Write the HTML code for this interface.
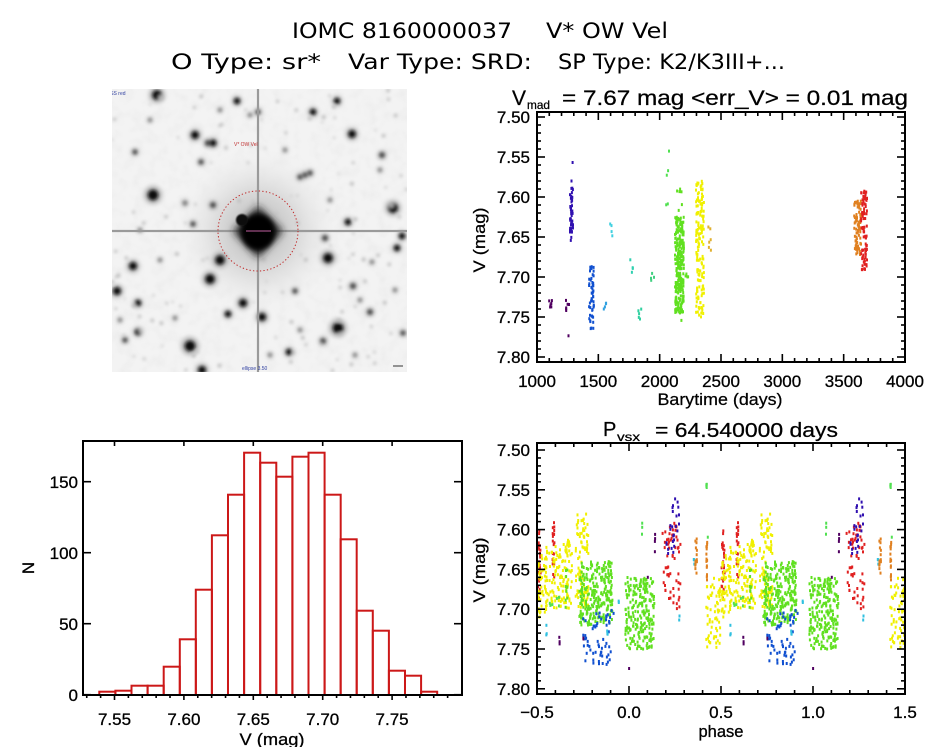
<!DOCTYPE html>
<html><head><meta charset="utf-8"><style>
html,body{margin:0;padding:0;background:#fff;}
svg{display:block;font-family:"Liberation Sans",sans-serif;}
</style></head><body>
<svg id="s" width="944" height="747" viewBox="0 0 944 747" xmlns="http://www.w3.org/2000/svg">
<defs>
<filter id="bl" x="-80%" y="-80%" width="260%" height="260%"><feGaussianBlur stdDeviation="1.6"/></filter>
<filter id="bl1" x="-80%" y="-80%" width="260%" height="260%"><feGaussianBlur stdDeviation="0.9"/></filter>
<filter id="bl2" x="-50%" y="-50%" width="200%" height="200%"><feGaussianBlur stdDeviation="2.5"/></filter>
<filter id="bl4" x="-50%" y="-50%" width="200%" height="200%"><feGaussianBlur stdDeviation="4"/></filter>
<filter id="noise" x="0" y="0" width="100%" height="100%">
<feTurbulence type="fractalNoise" baseFrequency="0.09" numOctaves="2" seed="7" result="t"/>
<feColorMatrix in="t" type="matrix" values="0 0 0 0 0.5  0 0 0 0 0.5  0 0 0 0 0.5  0 0 0 0.9 -0.38"/>
</filter>
<radialGradient id="halo" cx="0.5" cy="0.5" r="0.5">
<stop offset="0" stop-color="#b8b8b8"/><stop offset="0.45" stop-color="#d8d8d8"/><stop offset="1" stop-color="#f2f2f2" stop-opacity="0"/>
</radialGradient>
<clipPath id="imgc"><rect x="112" y="89" width="295" height="283"/></clipPath>
</defs>
<rect width="944" height="747" fill="#fff"/>

<!-- Titles -->
<g fill="#000" font-size="21" font-family="'DejaVu Sans','Liberation Sans',sans-serif">
<text x="292" y="38" textLength="220" lengthAdjust="spacingAndGlyphs">IOMC 8160000037</text>
<text x="546" y="38" textLength="122" lengthAdjust="spacingAndGlyphs">V* OW Vel</text>
<text x="171" y="69" textLength="150" lengthAdjust="spacingAndGlyphs">O Type: sr*</text>
<text x="348" y="69" textLength="184" lengthAdjust="spacingAndGlyphs">Var Type: SRD:</text>
<text x="558" y="69" textLength="227" lengthAdjust="spacingAndGlyphs">SP Type: K2/K3III+...</text>
</g>

<!-- Image panel -->
<g clip-path="url(#imgc)">
<rect x="112" y="89" width="295" height="283" fill="#f3f3f3"/>
<rect x="112" y="89" width="295" height="283" filter="url(#noise)" opacity="0.25"/>
<circle cx="258" cy="231" r="85" fill="url(#halo)"/>
<g id="starh" fill="#b0b0b0" filter="url(#bl2)"></g>
<g id="stars" fill="#222" filter="url(#bl)"></g>
<line x1="258" y1="89" x2="258" y2="372" stroke="#9a9a9a" stroke-width="2.2"/>
<line x1="112" y1="231" x2="407" y2="231" stroke="#9a9a9a" stroke-width="2.2"/>
<line x1="258" y1="150" x2="258" y2="320" stroke="#555" stroke-width="3" filter="url(#bl1)"/>
<line x1="175" y1="231" x2="345" y2="231" stroke="#555" stroke-width="3" filter="url(#bl1)"/>
<line x1="258" y1="195" x2="258" y2="275" stroke="#111" stroke-width="6" filter="url(#bl1)"/>
<line x1="210" y1="231" x2="310" y2="231" stroke="#111" stroke-width="6" filter="url(#bl1)"/>
<path d="M258,206 L283,231 L258,258 L233,231 Z" fill="#222" filter="url(#bl4)"/>
<ellipse cx="258" cy="232" rx="17" ry="18" fill="#000" filter="url(#bl2)"/>
<circle cx="242" cy="220" r="6" fill="#111" filter="url(#bl1)"/>
<circle cx="258" cy="231" r="40" fill="none" stroke="#c02828" stroke-width="1" stroke-dasharray="1.3,2.2"/>
<line x1="246" y1="231" x2="271" y2="231" stroke="#c060a0" stroke-width="1"/>
<text x="103" y="95" font-size="5" fill="#3040a0">POSS red</text>
<text x="234" y="146" font-size="5" fill="#c03030">V* OW Vel</text>
<text x="100" y="370" font-size="5" fill="#3040a0">~~</text>
<text x="242" y="370" font-size="5" fill="#3040a0">ellipse 3.50</text>
<line x1="393" y1="366" x2="403" y2="366" stroke="#333" stroke-width="1"/>
<line x1="411" y1="358" x2="411" y2="368" stroke="#333" stroke-width="1"/>
</g>

<!-- Top-right plot -->
<g id="trpts"></g>
<g id="trax" stroke="#000" stroke-width="1.6" fill="none"></g>
<rect x="537" y="112" width="368" height="250" fill="none" stroke="#000" stroke-width="2"/>
<g fill="#000" stroke="#000" stroke-width="0.3" font-size="17" text-anchor="end" id="trylab"></g>
<g fill="#000" stroke="#000" stroke-width="0.3" font-size="17" text-anchor="middle" id="trxlab"></g>
<g fill="#000" stroke="#000" stroke-width="0.25">
<text x="512" y="105" font-size="21">V</text>
<text x="527" y="109" font-size="12" textLength="23" lengthAdjust="spacingAndGlyphs">mad</text>
<text x="562" y="105" font-size="21" textLength="346" lengthAdjust="spacingAndGlyphs">= 7.67 mag &lt;err_V&gt; = 0.01 mag</text>
<text x="720" y="405" font-size="17" text-anchor="middle" textLength="125" lengthAdjust="spacingAndGlyphs">Barytime (days)</text>
<text transform="translate(485,240) rotate(-90)" font-size="17" text-anchor="middle" textLength="65" lengthAdjust="spacingAndGlyphs">V (mag)</text>
</g>

<!-- Histogram -->
<g id="bars" fill="none" stroke="#cc1818" stroke-width="2"></g>
<g id="hax" stroke="#000" stroke-width="1.6" fill="none"></g>
<rect x="83" y="441" width="379" height="254" fill="none" stroke="#000" stroke-width="2"/>
<g fill="#000" stroke="#000" stroke-width="0.3" font-size="17" text-anchor="end">
<text x="78" y="488">150</text>
<text x="78" y="559">100</text>
<text x="78" y="630">50</text>
<text x="78" y="701">0</text>
</g>
<g fill="#000" stroke="#000" stroke-width="0.3" font-size="17" text-anchor="middle">
<text x="114.5" y="725">7.55</text>
<text x="183.9" y="725">7.60</text>
<text x="253.3" y="725">7.65</text>
<text x="322.7" y="725">7.70</text>
<text x="392.1" y="725">7.75</text>
<text x="272" y="745" textLength="65" lengthAdjust="spacingAndGlyphs">V (mag)</text>
<text transform="translate(34,568) rotate(-90)">N</text>
</g>

<!-- Phase plot -->
<g id="phpts"></g>
<g id="phax" stroke="#000" stroke-width="1.6" fill="none"></g>
<rect x="537" y="443" width="368" height="251" fill="none" stroke="#000" stroke-width="2"/>
<g fill="#000" stroke="#000" stroke-width="0.3" font-size="17" text-anchor="end" id="phylab"></g>
<g fill="#000" stroke="#000" stroke-width="0.3" font-size="17" text-anchor="middle">
<text x="537" y="718">−0.5</text>
<text x="629" y="718">0.0</text>
<text x="721" y="718">0.5</text>
<text x="813" y="718">1.0</text>
<text x="905" y="718">1.5</text>
<text x="721" y="737" textLength="45" lengthAdjust="spacingAndGlyphs">phase</text>
<text transform="translate(485,570) rotate(-90)" textLength="65" lengthAdjust="spacingAndGlyphs">V (mag)</text>
</g>
<g fill="#000" stroke="#000" stroke-width="0.25">
<text x="603" y="436" font-size="20">P</text>
<text x="617" y="441" font-size="12" textLength="23" lengthAdjust="spacingAndGlyphs">vsx</text>
<text x="655" y="437" font-size="20" textLength="183" lengthAdjust="spacingAndGlyphs">= 64.540000 days</text>
</g>
</svg>
<script>
(function(){
var NS="http://www.w3.org/2000/svg";
function el(p,tag,a){var e=document.createElementNS(NS,tag);for(var k in a)e.setAttribute(k,a[k]);p.appendChild(e);return e;}
function rng(seed){return function(){seed|=0;seed=seed+0x6D2B79F5|0;var t=Math.imul(seed^seed>>>15,1|seed);t=t+Math.imul(t^t>>>7,61|t)^t;return((t^t>>>14)>>>0)/4294967296;};}
var R=rng(12345);

// stars
var stars=[[157,95,4],[237,101,2.6],[337,101,2.6],[313,112,2.6],[258,112,2],[195,135,3.2],[352,134,3.2],[213,143,2.8],[208,143,2.4],[135,152,2],[382,155,2.3],[201,162,2],[305,175,2],[300,177,2],[310,173,2],[153,195,4.5],[213,205,2.3],[185,203,1.8],[393,208,4],[193,224,2],[348,222,2.6],[402,236,2.6],[325,238,2.3],[397,248,2.6],[328,258,4],[220,260,4],[133,266,3.3],[210,279,4],[117,291,3.3],[353,286,2.3],[295,291,2],[243,303,3.3],[138,303,2.6],[228,314,2.6],[262,317,3.3],[370,312,2.3],[338,328,4.5],[138,332,2.6],[190,346,4.5],[323,341,2.3],[289,352,2.6],[125,340,2],[202,370,3.3],[403,333,2],[380,170,1.5],[250,115,1.5],[140,230,1.5],[160,260,1.5],[300,330,1.5],[360,300,1.5],[175,318,1.5],[395,290,1.5],[285,150,1.5],[330,200,1.5],[372,262,1.5],[150,120,1.5],[220,110,1.5],[270,355,1.5],[355,355,1.5],[120,320,1.5]];
var sg=document.getElementById("stars"),sh=document.getElementById("starh");
stars.forEach(function(s){
 el(sh,"circle",{cx:s[0],cy:s[1],r:(s[2]*2).toFixed(1)});
 el(sg,"circle",{cx:s[0],cy:s[1],r:(s[2]*1.15).toFixed(1),fill:s[2]>2.5?"#111":(s[2]>1.8?"#444":"#777")});});
for(var i=0;i<120;i++){el(sg,"circle",{cx:(112+R()*295).toFixed(1),cy:(89+R()*283).toFixed(1),r:(1+R()*1).toFixed(1),fill:"#bbb"});}

// top right axes
var ax=document.getElementById("trax");
function tx(t){return 537+(t-1000)*368/3000;}
function ty(v){return 117+(v-7.5)*800;}
for(var t=1000;t<=4000;t+=100){var x=tx(t);var maj=(t%500===0);var L=maj?8:4;
 el(ax,"line",{x1:x,y1:362,x2:x,y2:362-L});el(ax,"line",{x1:x,y1:112,x2:x,y2:112+L});}
for(var k=0;k<=31;k++){var v=7.49+k*0.01;var y=ty(v);if(y<112||y>362)continue;var maj=(k%5===1);var L=maj?8:4;
 el(ax,"line",{x1:537,y1:y,x2:537+L,y2:y});el(ax,"line",{x1:905,y1:y,x2:905-L,y2:y});}
var yl=document.getElementById("trylab");
["7.50","7.55","7.60","7.65","7.70","7.75","7.80"].forEach(function(s,i){var t=el(yl,"text",{x:530,y:(ty(7.5+i*0.05)+6).toFixed(1)});t.textContent=s;});
var xl=document.getElementById("trxlab");
[1000,1500,2000,2500,3000,3500,4000].forEach(function(v){var t=el(xl,"text",{x:tx(v).toFixed(1),y:387});t.textContent=v;});

// top right points
var tr=document.getElementById("trpts");
var trc=[
[548,552,7.728,7.742,"#500060",6],
[564,568,7.728,7.745,"#500060",6],
[567,568,7.773,7.777,"#500060",1],
[569,572,7.585,7.645,"#3010b0",35],
[569,572,7.555,7.675,"#3010b0",12],
[588,593,7.68,7.765,"#1050d0",50],
[602,606,7.725,7.742,"#30a0e0",4],
[609,612,7.632,7.652,"#40d0e0",4],
[629,632,7.675,7.695,"#30d0b0",4],
[637,641,7.728,7.755,"#30d0a0",5],
[650,654,7.695,7.705,"#40d080",4],
[665,668,7.54,7.615,"#50e050",5],
[674,683,7.625,7.745,"#60e020",250],
[676,681,7.59,7.765,"#60e020",20],
[684,688,7.695,7.705,"#60e020",4],
[695,703,7.58,7.75,"#f0f000",150],
[707,711,7.628,7.668,"#e0b030",6],
[853,860,7.605,7.672,"#e08020",80],
[860,866,7.592,7.695,"#e02020",80]];
trc.forEach(function(c){for(var i=0;i<c[5];i++){var x=c[0]+R()*(c[1]-c[0]);var v=c[2]+R()*(c[3]-c[2]);
 el(tr,"rect",{x:x.toFixed(1),y:(ty(v)-1.5).toFixed(1),width:2,height:3,fill:c[4]});}});

// histogram
var bg=document.getElementById("bars");
var tops=[691.7,690.7,685.7,685.7,666.7,639.3,589.7,535.3,494.7,452.7,462.7,476.7,456.7,452.7,494.7,539.3,610.7,630.7,670.7,675.7,691.7];
tops.forEach(function(tp,i){var x=99.3+i*16.09;el(bg,"rect",{x:x.toFixed(1),y:tp,width:16.09,height:(695-tp).toFixed(1)});});
var ha=document.getElementById("hax");
function hx(v){return 114.5+(v-7.55)/0.05*69.4;}
for(var k=0;k<=27;k++){var v=7.53+k*0.01;var x=hx(v);if(x<84||x>461)continue;var maj=(Math.round(v*100)%5===0);
 if(maj){el(ha,"line",{x1:x,y1:441,x2:x,y2:446});el(ha,"line",{x1:x,y1:695,x2:x,y2:700});}
 else{el(ha,"line",{x1:x,y1:695,x2:x,y2:698});}}
[0,50,100,150].forEach(function(n){var y=694.7-n*1.42;el(ha,"line",{x1:83,y1:y,x2:91,y2:y});el(ha,"line",{x1:462,y1:y,x2:454,y2:y});});

// phase axes
var pa=document.getElementById("phax");
function px(p){return 537+(p+0.5)*184;}
function py(v){return 450+(v-7.5)*796;}
for(var k=0;k<=20;k++){var p=-0.5+k*0.1;var x=px(p);var maj=(k%5===0);var L=maj?8:4;
 el(pa,"line",{x1:x,y1:694,x2:x,y2:694-L});el(pa,"line",{x1:x,y1:443,x2:x,y2:443+L});}
for(var k=0;k<=31;k++){var v=7.49+k*0.01;var y=py(v);if(y<443||y>694)continue;var maj=(k%5===1);var L=maj?8:4;
 el(pa,"line",{x1:537,y1:y,x2:537+L,y2:y});el(pa,"line",{x1:905,y1:y,x2:905-L,y2:y});}
var pyl=document.getElementById("phylab");
["7.50","7.55","7.60","7.65","7.70","7.75","7.80"].forEach(function(s,i){var t=el(pyl,"text",{x:530,y:(py(7.5+i*0.05)+6).toFixed(1)});t.textContent=s;});

// phase points
var pp=document.getElementById("phpts");
var phc=[
[0.42,0.50,7.66,7.75,"#f0f000",60],
[0.50,0.52,7.60,7.69,"#e02020",25],
[0.50,0.55,7.63,7.71,"#f0f000",50],
[0.585,0.595,7.59,7.66,"#e02020",20],
[0.55,0.63,7.62,7.70,"#f0f000",60],
[0.56,0.62,7.685,7.70,"#50e050",6],
[0.55,0.555,7.72,7.735,"#30c0e0",3],
[0.62,0.625,7.735,7.745,"#500060",3],
[0.625,0.69,7.61,7.70,"#f0f000",70],
[0.655,0.665,7.65,7.70,"#60e020",10],
[0.71,0.78,7.58,7.70,"#f0f000",90],
[0.75,0.755,7.735,7.745,"#500060",3],
[0.73,0.91,7.64,7.72,"#60e020",250],
[0.75,0.92,7.70,7.77,"#1050d0",60],
[0.88,0.885,7.725,7.74,"#30c0e0",3],
[0.94,0.945,7.688,7.692,"#30c0e0",2],
[0.98,1.14,7.66,7.75,"#60e020",220],
[1.07,1.075,7.59,7.61,"#50e050",3],
[1.0,1.003,7.773,7.777,"#500060",1],
[1.10,1.103,7.658,7.662,"#500060",1],
[1.14,1.145,7.60,7.63,"#500060",4],
[1.18,1.28,7.59,7.70,"#e02020",60],
[1.20,1.28,7.56,7.63,"#3010b0",25],
[1.27,1.275,7.708,7.715,"#30c0e0",2],
[1.35,1.355,7.635,7.645,"#30c0e0",3],
[1.36,1.37,7.61,7.655,"#e08020",15],
[1.42,1.425,7.61,7.665,"#e08020",15],
[1.42,1.425,7.54,7.58,"#50e050",4],
[1.425,1.43,7.60,7.61,"#50e050",1]];
phc.forEach(function(c){for(var i=0;i<c[5];i++){var p=c[0]+R()*(c[1]-c[0]);var v=c[2]+R()*(c[3]-c[2]);
 var y=(py(v)-1.5).toFixed(1);
 for(var k=-2;k<=1;k++){var q=p+k;if(q<-0.5||q>1.5)continue;
  el(pp,"rect",{x:(px(q)-1).toFixed(1),y:y,width:2,height:3,fill:c[4]});}}});
})();
</script>
</body></html>
